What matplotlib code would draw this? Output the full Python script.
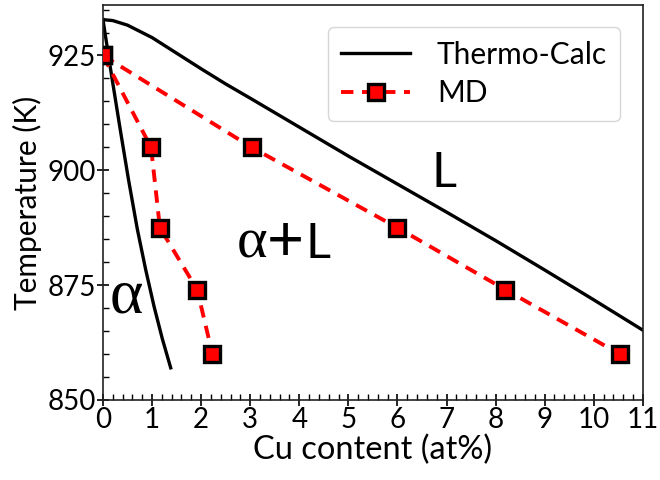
import matplotlib
matplotlib.use("Agg")
import matplotlib.pyplot as plt
from matplotlib.ticker import MultipleLocator

# Thermo-Calc liquidus and solidus
tc_liq_x = [0.0, 0.2, 0.5, 1.0, 1.5, 2.0, 2.5, 3.0, 4.0, 5.0, 6.0, 7.0, 8.0, 9.0, 10.0, 11.0]
tc_liq_T = [932.8, 932.6, 931.6, 928.9, 925.5, 922.1, 918.8, 915.7, 909.4, 903.1, 897.0, 890.9, 884.7, 878.3, 871.8, 865.2]
tc_sol_x = [0.0, 0.17, 0.35, 0.52, 0.70, 0.87, 1.04, 1.21, 1.38]
tc_sol_T = [932.8, 921.0, 909.0, 898.0, 887.2, 878.4, 870.4, 863.3, 857.0]

# MD results
md_sol_x = [0.0, 0.98, 1.16, 1.92, 2.23]
md_liq_x = [0.0, 3.03, 6.0, 8.2, 10.53]
md_T = [925.0, 905.0, 887.5, 874.0, 860.0]

xticks = list(range(0, 12))
yticks = [850, 875, 900, 925]

FONT = "Lato"
plt.rcParams['font.family'] = [FONT, 'DejaVu Sans']

fig = plt.figure(figsize=(6.6, 4.8), dpi=100)
ax = fig.add_axes([0.156, 0.1667, 0.818, 0.823])

ax.plot(tc_liq_x, tc_liq_T, color='black', lw=2.4, label='Thermo-Calc', zorder=2)
ax.plot(tc_sol_x, tc_sol_T, color='black', lw=2.4, zorder=2)

mk = dict(color='red', lw=2.8, ls=(0, (3.2, 2.2)), marker='s', markersize=12,
          markerfacecolor='red', markeredgecolor='black', markeredgewidth=2.4, zorder=3)
ax.plot(md_sol_x, md_T, label='MD', **mk)
ax.plot(md_liq_x, md_T, **mk)

ax.set_xlim(0, 11)
ax.set_ylim(850, 936)
ax.set_xticks(xticks)
ax.set_yticks(yticks)
ax.xaxis.set_minor_locator(MultipleLocator(0.2))
ax.yaxis.set_minor_locator(MultipleLocator(5))
ax.tick_params(which='major', direction='inout', length=8, width=1.2, labelsize=20, pad=1)
ax.tick_params(which='minor', direction='in', length=4, width=1.0)
for s in ax.spines.values():
    s.set_linewidth(1.2)
    s.set_color('#222222')

ax.set_xlabel('Cu content (at%)', fontsize=23.5, labelpad=1)
ax.set_ylabel('Temperature (K)', fontsize=21.5, labelpad=4)

ax.text(6.7, 896.3, 'L', fontsize=35, ha='left', va='baseline')
ax.text(2.72, 881.0, 'α', fontsize=42, family=['Liberation Serif'], ha='left', va='baseline')
ax.text(3.71, 880.2, '+', fontsize=46, ha='center', va='baseline')
ax.text(4.12, 881.0, 'L', fontsize=35, ha='left', va='baseline')
ax.text(0.13, 869.0, 'α', fontsize=46, family=['Liberation Serif'], ha='left', va='baseline')

leg = ax.legend(loc='upper right', fontsize=21.5, frameon=True, fancybox=True,
                borderaxespad=0.75, handlelength=2.3, handletextpad=0.9, labelspacing=0.35,
                borderpad=0.45)
leg.get_frame().set_edgecolor('#cccccc')

fig.savefig('out.png', dpi=100)
